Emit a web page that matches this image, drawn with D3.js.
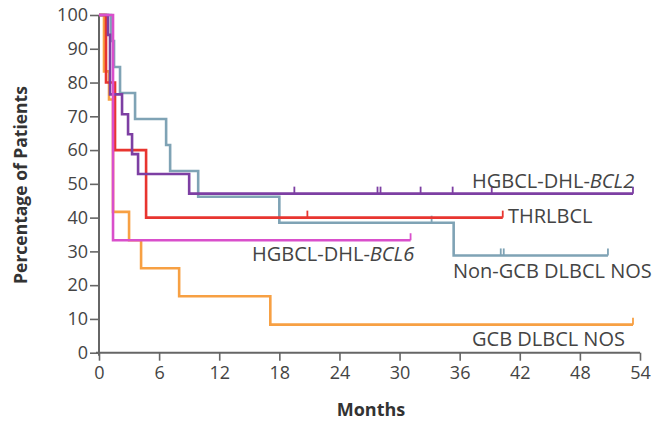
<!DOCTYPE html>
<html>
<head>
<meta charset="utf-8">
<script src="https://cdn.jsdelivr.net/npm/d3@7"></script>
<style>
  html, body { margin: 0; padding: 0; background: #fff; }
  svg { display: block; }
  text { font-family: "Open Sans", "Noto Sans", sans-serif; fill: #444; }
</style>
</head>
<body>
<svg id="chart" width="656" height="421"></svg>
<script>
// Kaplan–Meier step data: event times (months) and survival (%) after each event
const gcbTimes   = [0, 0.5, 1.0, 1.4, 3.0, 4.2, 8.0, 17.1];
const gcbSurv    = [100, 83.3, 75, 41.7, 33.3, 25, 16.7, 8.3];
const gcbEnd     = 53.3;
const gcbCensor  = [53.3];

const nonGcbTimes  = [0, 1.2, 1.5, 2.1, 3.6, 6.7, 7.1, 9.9, 18.0, 35.4];
const nonGcbSurv   = [100, 92.3, 84.6, 76.9, 69.2, 61.5, 53.8, 46.2, 38.5, 28.8];
const nonGcbEnd    = 50.8;
const nonGcbCensor = [33.2, 40.1, 40.4, 50.8];

const thrTimes  = [0, 0.7, 1.6, 4.7];
const thrSurv   = [100, 80, 60, 40];
const thrEnd    = 40.3;
const thrCensor = [20.8, 40.3];

const bcl2Times  = [0, 0.9, 1.1, 2.3, 2.9, 3.3, 3.9, 9.0];
const bcl2Surv   = [100, 94.1, 76.5, 70.6, 64.7, 58.8, 52.9, 47.1];
const bcl2End    = 53.3;
const bcl2Censor = [19.5, 27.8, 28.1, 32.1, 35.3, 39.2, 53.3];

const bcl6Times  = [0, 1.4];
const bcl6Surv   = [100, 33.3];
const bcl6End    = 31.1;
const bcl6Censor = [31.1];

const xTicks = [0, 6, 12, 18, 24, 30, 36, 42, 48, 54];
const yTicks = [0, 10, 20, 30, 40, 50, 60, 70, 80, 90, 100];

const series = [
  { name: "Non-GCB DLBCL NOS", times: nonGcbTimes, surv: nonGcbSurv, end: nonGcbEnd, censor: nonGcbCensor, color: "#7fa3b5" },
  { name: "GCB DLBCL NOS",     times: gcbTimes,    surv: gcbSurv,    end: gcbEnd,    censor: gcbCensor,    color: "#f7a043" },
  { name: "THRLBCL",           times: thrTimes,    surv: thrSurv,    end: thrEnd,    censor: thrCensor,    color: "#e8352f" },
  { name: "HGBCL-DHL-BCL2",    times: bcl2Times,   surv: bcl2Surv,   end: bcl2End,   censor: bcl2Censor,   color: "#7d3fa3" },
  { name: "HGBCL-DHL-BCL6",    times: bcl6Times,   surv: bcl6Surv,   end: bcl6End,   censor: bcl6Censor,   color: "#d94fcb" }
];

// Curve labels: prefix in roman, optional italic suffix
const labels = [
  { pre: "HGBCL-DHL-", it: "BCL2", x: 472, y: 188 },
  { pre: "THRLBCL",    it: "",     x: 508, y: 223 },
  { pre: "HGBCL-DHL-", it: "BCL6", x: 252, y: 261 },
  { pre: "Non-GCB DLBCL NOS", it: "", x: 453, y: 278 },
  { pre: "GCB DLBCL NOS", it: "", x: 472, y: 346 }
];

const svg = d3.select("#chart");
const x = d3.scaleLinear().domain([0, 54]).range([99, 640]);
const y = d3.scaleLinear().domain([0, 100]).range([352.7, 15]);

const axisColor = "#666";

// Y axis
const yAxis = svg.append("g")
  .attr("transform", `translate(${x(0)},0)`)
  .call(d3.axisLeft(y).tickValues(yTicks).tickSize(9).tickPadding(2));
yAxis.select(".domain").attr("stroke", axisColor).attr("stroke-width", 2)
  .attr("d", `M0,${y(100)}V${y(0) + 3}`);
yAxis.selectAll(".tick line").attr("stroke", axisColor).attr("stroke-width", 1.6);
yAxis.selectAll(".tick text").style("font-size", "18px").style("fill", "#444")
  .style("font-family", "'Open Sans', sans-serif");

// X axis
const xAxis = svg.append("g")
  .attr("transform", `translate(0,${y(0)})`)
  .call(d3.axisBottom(x).tickValues(xTicks).tickSize(8).tickPadding(6));
xAxis.select(".domain").attr("stroke", axisColor).attr("stroke-width", 2)
  .attr("d", `M${x(0) - 3},0H${x(54)}`);
xAxis.selectAll(".tick line").attr("stroke", axisColor).attr("stroke-width", 1.6);
xAxis.selectAll(".tick text").style("font-size", "18px").style("fill", "#444")
  .style("font-family", "'Open Sans', sans-serif");

// Axis titles
svg.append("text")
  .attr("x", 371).attr("y", 416)
  .attr("text-anchor", "middle")
  .style("font-size", "18px").style("font-weight", "bold").style("fill", "#333")
  .text("Months");
svg.append("text")
  .attr("transform", `translate(27,185) rotate(-90)`)
  .attr("text-anchor", "middle")
  .style("font-size", "17.5px").style("font-weight", "bold").style("fill", "#333")
  .text("Percentage of Patients");

// Survival curves
const line = d3.line()
  .x(d => x(d[0])).y(d => y(d[1]))
  .curve(d3.curveStepAfter);

const survAt = (s, t) => {
  let v = s.surv[0];
  s.times.forEach((tt, i) => { if (tt <= t) v = s.surv[i]; });
  return v;
};

series.forEach(s => {
  const pts = s.times.map((t, i) => [t, s.surv[i]]);
  pts.push([s.end, s.surv[s.surv.length - 1]]);
  svg.append("path")
    .datum(pts)
    .attr("d", line)
    .attr("fill", "none")
    .attr("stroke", s.color)
    .attr("stroke-width", 2.6)
    .attr("stroke-linejoin", "miter");
  svg.append("g").selectAll("line")
    .data(s.censor)
    .join("line")
    .attr("x1", d => x(d)).attr("x2", d => x(d))
    .attr("y1", d => y(survAt(s, d)))
    .attr("y2", d => y(survAt(s, d)) - 7)
    .attr("stroke", s.color)
    .attr("stroke-width", 1.8);
});

// Curve labels
labels.forEach(l => {
  const t = svg.append("text")
    .attr("x", l.x).attr("y", l.y)
    .style("font-size", "20px").style("fill", "#444");
  t.append("tspan").text(l.pre);
  if (l.it) t.append("tspan").style("font-style", "italic").text(l.it);
});
</script>
</body>
</html>
